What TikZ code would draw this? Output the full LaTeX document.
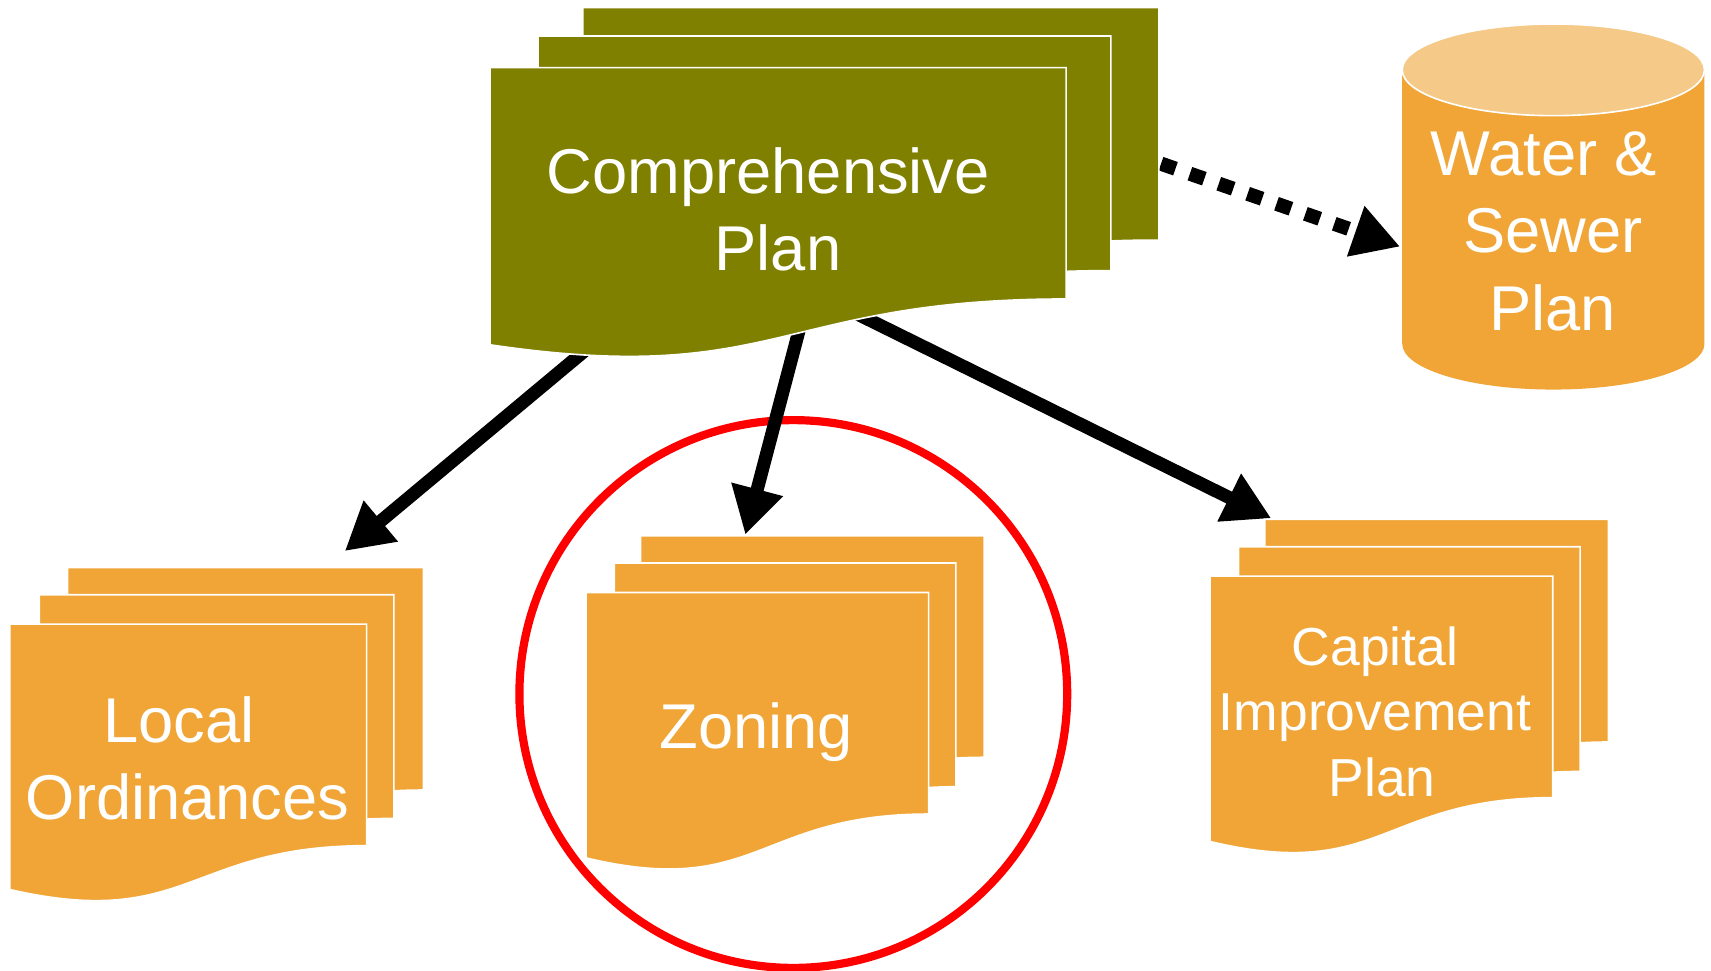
\documentclass[tikz,border=0pt]{standalone}
\usepackage{fontspec}
\setmainfont{Liberation Sans}
\usetikzlibrary{arrows.meta}
\definecolor{olivec}{HTML}{808000}
\definecolor{orangec}{HTML}{F0A536}
\definecolor{lightc}{HTML}{F5C987}
\newcommand\docsheet[5]{\path[fill=#5,draw=white,line width=1.5pt] (#1,#2) -- ({#1+#3},#2) -- ({#1+#3},{#2+#4}) .. controls ({#1+#3/2},{#2+#4}) and ({#1+#3/2},{#2+1.382*#4}) .. (#1,{#2+1.198*#4}) -- cycle;}
\begin{document}
\begin{tikzpicture}[x=1pt,y=-1pt,
  arr/.style={line width=12pt,-{Triangle[length=43pt,width=46pt]}},
  dotarr/.style={line width=13pt,dash pattern=on 14pt off 14pt,-{Triangle[length=43pt,width=46pt]}},
  lbl/.style={text=white,align=center,font=\fontsize{58}{71}\selectfont,inner sep=0pt}]
\useasboundingbox (0,0) rectangle (1568,889);
% red circle
\draw[red,line width=7.5pt] (727,636) circle[radius=251pt];
% connector endpoints
\coordinate (a1s) at (540,318);
\coordinate (a1e) at (316,505);
\coordinate (a2s) at (733,300);
\coordinate (a2e) at (683,490);
\coordinate (a3s) at (780,285);
\coordinate (a3e) at (1165,475);
\coordinate (a4s) at (1064,150);
\coordinate (a4e) at (1283,226);
\draw[arr] (a1s) -- (a1e);
\draw[arr] (a2s) -- (a2e);
\draw[arr] (a3s) -- (a3e);
\draw[dotarr] (a4s) -- (a4e);
% comprehensive plan stack
\docsheet{534}{7}{528}{213}{olivec}
\docsheet{493}{33}{525}{215}{olivec}
\docsheet{449}{62}{528}{212}{olivec}
% local ordinances stack
\docsheet{62}{520}{326}{204}{orangec}
\docsheet{36}{545}{325}{205}{orangec}
\docsheet{9}{572}{327}{203}{orangec}
% zoning stack
\docsheet{587}{491}{315}{203}{orangec}
\docsheet{563}{516}{313}{205}{orangec}
\docsheet{537}{543}{314}{203}{orangec}
% capital improvement stack
\docsheet{1159}{476}{315}{204}{orangec}
\docsheet{1135}{501}{313}{206}{orangec}
\docsheet{1109}{528}{314}{203}{orangec}
% cylinder
\path[fill=orangec] (1285,64) -- (1285,315) arc[start angle=180,end angle=360,x radius=138.5pt,y radius=42pt] -- (1562,64) -- cycle;
\path[fill=lightc,draw=white,line width=1.5pt] (1423.5,64) ellipse[x radius=138.5pt,y radius=42pt];
% labels
\node[lbl] (comp) at (704,192) {Comprehensive\\\kern18pt Plan};
\node[lbl] (water) at (1423,212) {Water \&\kern16pt\\Sewer\\Plan};
\node[lbl] (local) at (172,695) {Local\kern16pt\\Ordinances};
\node[lbl] (zoning) at (693,671) {Zoning};
\node[lbl,font=\fontsize{49}{60}\selectfont] (cip) at (1260,652) {Capital\\Improvement\\\kern13pt Plan};
\end{tikzpicture}
\end{document}
